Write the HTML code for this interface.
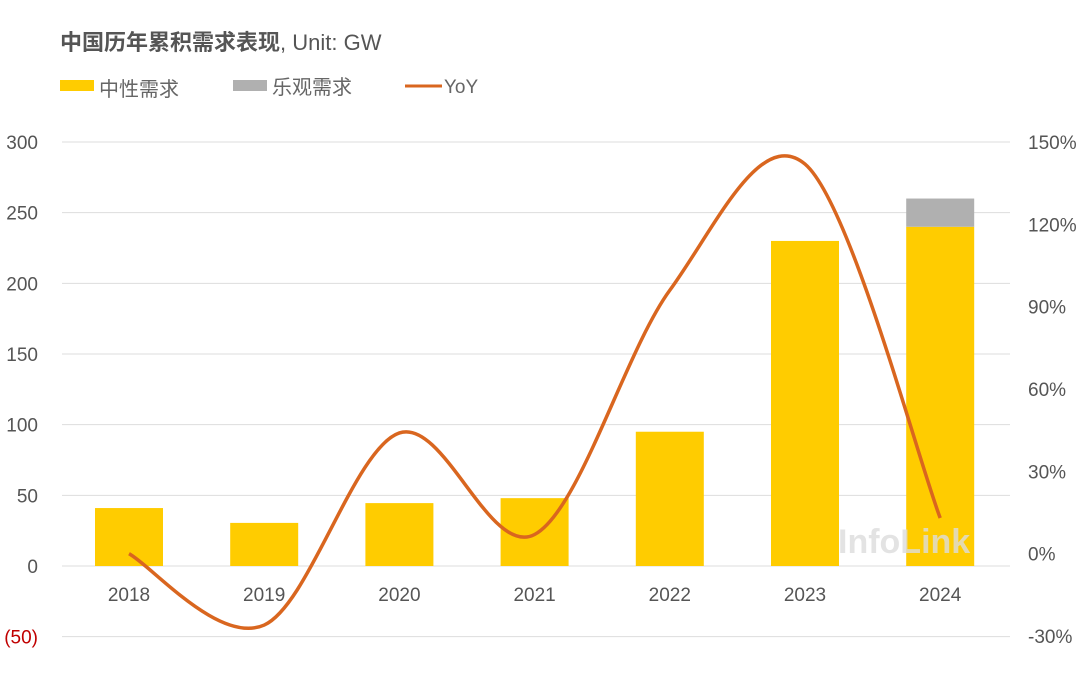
<!DOCTYPE html>
<html><head><meta charset="utf-8"><style>
body{margin:0;background:#fff;}
svg text{font-family:"Liberation Sans","Noto Sans CJK SC",sans-serif;}
</style></head><body>
<svg id="c" width="1080" height="693" viewBox="0 0 1080 693">
<text x="60" y="50" font-size="22" font-weight="bold" fill="#555">中国历年累积需求表现<tspan font-weight="normal">, Unit: GW</tspan></text>
<g>
<rect x="60" y="80" width="34" height="11" fill="#FFCC00"/>
<text x="99" y="96" font-size="20" fill="#666">中性需求</text>
<rect x="233" y="80" width="34" height="11" fill="#B0B0B0"/>
<text x="272" y="94" font-size="20" fill="#666">乐观需求</text>
<line x1="405" y1="86" x2="442" y2="86" stroke="#D9661F" stroke-width="3"/>
<text x="444" y="93" font-size="19" fill="#666">YoY</text>
</g>
<g id="grid"></g><g id="bars"></g><g id="line"></g><g id="labels"></g>
<text x="838" y="553" font-size="34" font-weight="bold" font-family="Liberation Serif, serif" fill="#ddd" opacity="0.8">InfoLink</text>
</svg>
<script>
const years=['2018','2019','2020','2021','2022','2023','2024'];
const neutral=[41,30.5,44.5,48,95,230,240];
const optimistic=[0,0,0,0,0,0,20];
const yoy=[0,-26,44,7,96,142,13];
const leftTicks=[-50,0,50,100,150,200,250,300];
const rightTicks=[-30,0,30,60,90,120,150];
const NS='http://www.w3.org/2000/svg';
function yL(v){return 566-v*(424/300);}
function yR(v){return 553.7-v*2.744;}
function xC(i){return 129+i*135.2;}
function mk(t,a,p){const e=document.createElementNS(NS,t);for(const k in a)e.setAttribute(k,a[k]);document.getElementById(p).appendChild(e);return e;}
leftTicks.forEach(v=>{
 const g=mk('line',{x1:62,x2:1010,y1:yL(v),y2:yL(v),stroke:'#ddd','stroke-width':1},'grid');
 
 
 const t=mk('text',{x:38,y:yL(v)+7,'font-size':19,'text-anchor':'end',fill:v<0?'#C00000':'#555'},'labels');
 t.textContent=v<0?'('+(-v)+')':v;
 
 
});
rightTicks.forEach(v=>{
 const t=mk('text',{x:1028,y:yR(v)+7,'font-size':19,fill:'#555'},'labels');
 t.textContent=v+'%';
 
 
});
years.forEach((y,i)=>{
 const b=mk('rect',{x:xC(i)-34,y:yL(neutral[i]),width:68,height:yL(0)-yL(neutral[i]),fill:'#FFCC00'},'bars');
 
 
 if(optimistic[i]>0){
  const o=mk('rect',{x:xC(i)-34,y:yL(neutral[i]+optimistic[i]),width:68,height:yL(neutral[i])-yL(neutral[i]+optimistic[i]),fill:'#B0B0B0'},'bars');
  
  
 }
 const t=mk('text',{x:xC(i),y:601,'font-size':19,'text-anchor':'middle',fill:'#555'},'labels');
 t.textContent=y;
 
 
});
const P=yoy.map((v,i)=>[xC(i),yR(v)]);
let d='M'+P[0][0]+','+P[0][1];
for(let i=0;i<P.length-1;i++){
 const p0=P[Math.max(i-1,0)],p1=P[i],p2=P[i+1],p3=P[Math.min(i+2,P.length-1)];
 const c1=[p1[0]+(p2[0]-p0[0])/6,p1[1]+(p2[1]-p0[1])/6];
 const c2=[p2[0]-(p3[0]-p1[0])/6,p2[1]-(p3[1]-p1[1])/6];
 d+=' C'+c1+' '+c2+' '+p2;
}
const l=mk('path',{d:d,fill:'none',stroke:'#D9661F','stroke-width':3.5},'line');


</script>
</body></html>
